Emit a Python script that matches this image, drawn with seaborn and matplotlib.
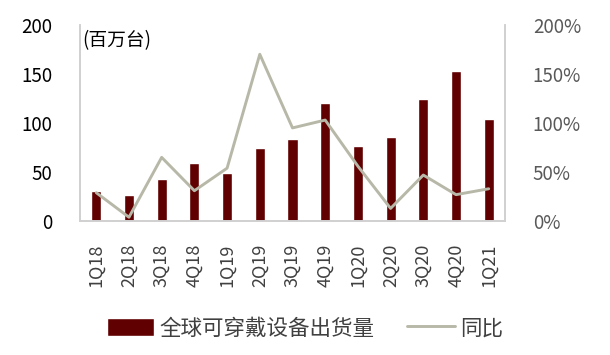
import numpy as np
import pandas as pd
import seaborn as sns
import matplotlib.pyplot as plt
from matplotlib.ticker import FixedLocator, PercentFormatter

quarters = ['1Q18', '2Q18', '3Q18', '4Q18', '1Q19', '2Q19', '3Q19',
            '4Q19', '1Q20', '2Q20', '3Q20', '4Q20', '1Q21']
shipments = [31, 27, 43, 59, 49, 75, 84, 120, 77, 86, 124, 153, 104]  # 百万台
yoy = [29, 4, 65, 31, 54, 170, 95, 103, 56, 13, 47, 27, 33]  # %

sns.set_style('white')
plt.rcParams['font.family'] = ['Noto Sans CJK SC', 'DejaVu Sans']

df = pd.DataFrame({'q': quarters, 'ship': shipments, 'yoy': yoy})

fig = plt.figure(figsize=(6.1, 3.55), dpi=100)
ax = fig.add_axes([0.131, 0.377, 0.697, 0.553])

sns.barplot(data=df, x='q', y='ship', color='#600000', width=0.31,
            saturation=1, ax=ax, label='全球可穿戴设备出货量')
ax2 = ax.twinx()
sns.lineplot(x=np.arange(len(quarters)), y=df['yoy'], color='#B8B8A8',
             linewidth=2.1, ax=ax2, label='同比')

ax.set_xlim(-0.5, len(quarters) - 0.5)
ax.set_ylim(0, 200)
ax2.set_ylim(0, 200)
ax.set_yticks([0, 50, 100, 150, 200])
ax2.set_yticks([0, 50, 100, 150, 200])
ax2.yaxis.set_major_formatter(PercentFormatter(decimals=0))
ax.set_xlabel('')
ax.set_ylabel('')
ax2.set_ylabel('')

ax.tick_params(axis='y', labelsize=13.5, colors='black', length=0, pad=20)
ax2.tick_params(axis='y', labelsize=13.5, labelcolor='#595959', length=0, pad=20)
ax.tick_params(axis='x', labelsize=13, labelcolor='#404040', length=0,
               rotation=90, pad=16)
ax.xaxis.set_minor_locator(FixedLocator(np.arange(-0.5, len(quarters), 1)))
ax.tick_params(axis='x', which='minor', length=7, color='#D0D0D0',
               width=1, direction='out')

for a in (ax, ax2):
    a.spines['top'].set_visible(False)
    for s in ('left', 'right', 'bottom'):
        a.spines[s].set_color('#D0D0D0')
        a.spines[s].set_linewidth(1.2)

ax.text(0.005, 0.975, '(百万台)', transform=ax.transAxes, fontsize=13.5,
        va='top', ha='left', color='black')

h1, l1 = ax.get_legend_handles_labels()
h2, l2 = ax2.get_legend_handles_labels()
if ax.get_legend():
    ax.get_legend().remove()
if ax2.get_legend():
    ax2.get_legend().remove()
fig.legend(h1 + h2, l1 + l2, loc='center', bbox_to_anchor=(0.5, 0.075),
           ncol=2, frameon=False, fontsize=15.5, handlelength=2.2,
           handleheight=0.9, columnspacing=1.5, handletextpad=0.25,
           labelcolor='#404040')

fig.savefig('out.png', dpi=100)
